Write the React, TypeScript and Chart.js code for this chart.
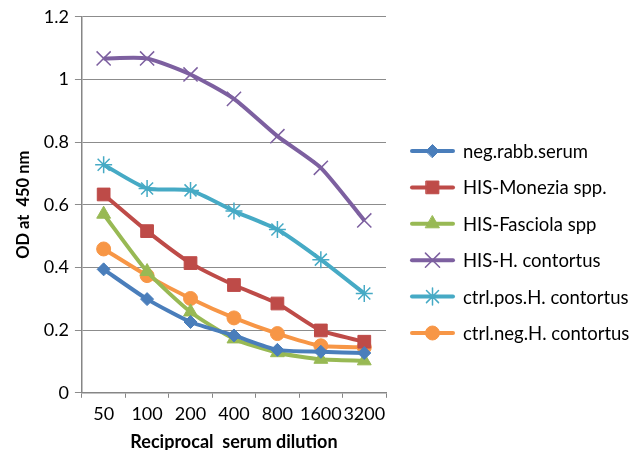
import React, { useEffect, useRef } from "react";
import { Chart, registerables } from "chart.js";
import { drawPoint } from "chart.js/helpers";

Chart.register(...registerables);

const categories = ["50", "100", "200", "400", "800", "1600", "3200"];
const negRabbSerum = [0.394, 0.299, 0.226, 0.183, 0.137, 0.131, 0.127];
const hisMonezia = [0.633, 0.516, 0.414, 0.344, 0.285, 0.199, 0.163];
const hisFasciola = [0.57, 0.387, 0.258, 0.172, 0.128, 0.107, 0.102];
const hisHContortus = [1.067, 1.067, 1.016, 0.938, 0.819, 0.718, 0.55];
const ctrlPosHContortus = [0.728, 0.652, 0.646, 0.58, 0.521, 0.425, 0.317];
const ctrlNegHContortus = [0.459, 0.374, 0.301, 0.239, 0.189, 0.15, 0.145];

const seriesNames = [
  "neg.rabb.serum",
  "HIS-Monezia spp.",
  "HIS-Fasciola spp",
  "HIS-H. contortus",
  "ctrl.pos.H. contortus",
  "ctrl.neg.H. contortus",
];
const seriesData = [negRabbSerum, hisMonezia, hisFasciola, hisHContortus, ctrlPosHContortus, ctrlNegHContortus];
const seriesColors = ["#4A7EBB", "#BE4B48", "#98B954", "#7D60A0", "#46AAC5", "#F79646"];
const seriesPoints = ["rectRot", "rect", "triangle", "crossRot", "star", "circle"];
const seriesRadius = [6.5, 9, 8, 10, 8.5, 7];

const FONT = "Lato, 'Liberation Sans', sans-serif";

const legendPlugin = {
  id: "excelLegend",
  afterDraw(chart: any) {
    const ctx = chart.ctx;
    const x0 = chart.chartArea.right + 26;
    const y0 = 151;
    const gap = 36.4;
    ctx.save();
    chart.data.datasets.forEach((ds: any, i: number) => {
      const y = y0 + i * gap;
      ctx.strokeStyle = ds.borderColor;
      ctx.lineWidth = 4;
      ctx.lineCap = "round";
      ctx.beginPath();
      ctx.moveTo(x0, y);
      ctx.lineTo(x0 + 41, y);
      ctx.stroke();
      ctx.fillStyle = ds.backgroundColor;
      ctx.strokeStyle = ds.borderColor;
      ctx.lineWidth = ds.pointStyle === "crossRot" || ds.pointStyle === "star" ? 1.5 : 1;
      drawPoint(ctx, { pointStyle: ds.pointStyle, radius: ds.pointRadius, rotation: 0, borderWidth: ctx.lineWidth }, x0 + 20.5, y);
      ctx.fillStyle = "#000";
      ctx.font = `18.5px ${FONT}`;
      ctx.textBaseline = "middle";
      ctx.textAlign = "left";
      ctx.fillText(ds.label, x0 + 51, y + 1);
    });
    ctx.restore();
  },
};

export default function App() {
  const ref = useRef<HTMLCanvasElement>(null);
  useEffect(() => {
    if (!ref.current) return;
    const chart = new Chart(ref.current, {
      type: "line",
      data: {
        labels: categories,
        datasets: seriesNames.map((name, i) => ({
          label: name,
          data: seriesData[i],
          borderColor: seriesColors[i],
          backgroundColor: seriesColors[i],
          borderWidth: 4,
          pointStyle: seriesPoints[i] as any,
          pointRadius: seriesRadius[i],
          pointBorderWidth: seriesPoints[i] === "crossRot" || seriesPoints[i] === "star" ? 1.5 : 1,
          pointBackgroundColor: seriesColors[i],
          pointBorderColor: seriesColors[i],
          tension: 0.2,
        })),
      },
      options: {
        responsive: false,
        animation: false,
        layout: { padding: { left: 14, top: 8, right: 258, bottom: -3 } },
        plugins: { legend: { display: false }, tooltip: { enabled: false } },
        scales: {
          x: {
            offset: true,
            grid: { drawOnChartArea: false, drawTicks: true, offset: true, tickLength: 5, color: "#868686", lineWidth: 1 },
            border: { color: "#868686", width: 1.5 },
            ticks: { color: "#000", font: { family: FONT, size: 18 }, padding: 6, maxRotation: 0, autoSkip: false },
            title: { display: true, text: "Reciprocal  serum dilution", color: "#000", font: { family: FONT, size: 18, weight: "bold" }, padding: { top: 0, bottom: 0 } },
          },
          y: {
            min: 0,
            max: 1.2,
            ticks: {
              stepSize: 0.2,
              color: "#000",
              font: { family: FONT, size: 18 },
              padding: 6,
              callback: (v: any) => String(Math.round(Number(v) * 10) / 10),
            },
            grid: { color: "#8C8C8C", lineWidth: 1, tickLength: 7, drawTicks: true },
            border: { color: "#868686", width: 1.5 },
            title: { display: true, text: "OD at  450 nm", color: "#000", font: { family: FONT, size: 16.5, weight: "bold" }, padding: { top: 0, bottom: 4 } },
          },
        },
      },
      plugins: [legendPlugin],
    });
    return () => chart.destroy();
  }, []);
  return (
    <div style={{ position: "absolute", left: 0, top: 0, width: 644, height: 450, background: "#fff" }}>
      <canvas ref={ref} width={644} height={450} />
    </div>
  );
}
